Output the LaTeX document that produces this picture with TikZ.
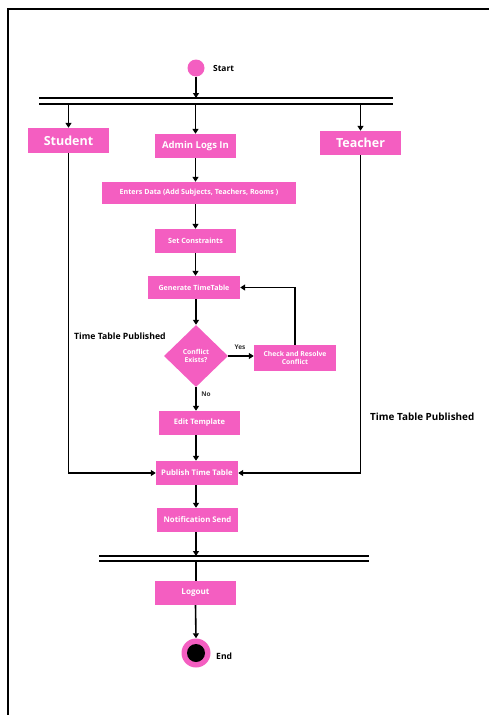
\documentclass[tikz,border=0pt]{standalone}
\usepackage{fontspec}
\setmainfont{Open Sans}
\usetikzlibrary{shapes.geometric,arrows.meta}
\definecolor{pk}{RGB}{244,94,193}
\newcommand{\fs}[1]{\fontsize{#1}{#1}\selectfont}
\begin{document}
\begin{tikzpicture}[x=1pt,y=-1pt,
  box/.style={fill=pk,text=white,font=\bfseries,inner sep=0pt,align=center},
  arr/.style={line width=1.6pt,-{Triangle[length=5pt,width=6pt]}},
  ln/.style={line width=1.6pt},
  lbl/.style={text=black,inner sep=0pt}]
\useasboundingbox (0,0) rectangle (489,715);
\fill[white] (0,0) rectangle (489,715);
\draw[line width=2pt] (8,715) -- (8,9) -- (489,9);

% start
\node[circle,fill=pk,minimum size=17pt,inner sep=0pt] (start) at (196,68) {};
\node[lbl,anchor=west,font=\bfseries\fs{8.4}] (startl) at (213,68) {Start};

% fork bar
\coordinate (f1L) at (39,98); \coordinate (f1R) at (393,98);
\coordinate (f2L) at (39,104); \coordinate (f2R) at (393,104);
\draw[ln] (f1L) -- (f1R);
\draw[ln] (f2L) -- (f2R);

% boxes
\node[box,minimum width=81pt,minimum height=25pt,font=\bfseries\fs{12.5}] (student) at (68.5,140.5) {Student};
\node[box,minimum width=81pt,minimum height=24pt,font=\bfseries\fs{9.5}] (admin) at (195.5,146) {Admin Logs In};
\node[box,minimum width=81pt,minimum height=24pt,font=\bfseries\fs{12.5}] (teacher) at (360.5,143) {Teacher};
\node[box,minimum width=194pt,minimum height=22pt,font=\bfseries\fs{7.1}] (enters) at (199,193) {Enters Data (Add Subjects, Teachers, Rooms )};
\node[box,minimum width=81pt,minimum height=24pt,font=\bfseries\fs{7.2}] (setc) at (195.5,241) {Set Constraints};
\node[box,minimum width=92pt,minimum height=23pt,font=\bfseries\fs{7.1}] (gen) at (194,287.5) {Generate TimeTable};
\node[box,diamond,aspect=1,minimum width=64pt,minimum height=62pt,font=\bfseries\fs{6.8},align=center] (dec) at (196,356) {Conflict\\[2pt]Exists?};
\node[box,minimum width=82pt,minimum height=26pt,font=\bfseries\fs{6.8}] (check) at (295,358) {Check and Resolve\\[2pt]Conflict};
\node[box,minimum width=81pt,minimum height=24pt,font=\bfseries\fs{7.5}] (edit) at (199.5,423) {Edit Template};
\node[box,minimum width=82pt,minimum height=24pt,font=\bfseries\fs{7.7}] (pub) at (197,473) {Publish Time Table};
\node[box,minimum width=81pt,minimum height=24pt,font=\bfseries\fs{7.8}] (notif) at (197.5,520) {Notification Send};
\node[box,minimum width=81pt,minimum height=24pt,font=\bfseries\fs{8.1}] (logout) at (195.5,593) {Logout};

% join bar
\coordinate (j1L) at (99,556); \coordinate (j1R) at (369,556);
\coordinate (j2L) at (99,561); \coordinate (j2R) at (369,561);
\draw[ln] (j1L) -- (j1R);
\draw[ln] (j2L) -- (j2R);

% end
\node[circle,fill=pk,minimum size=29pt,inner sep=0pt] (endc) at (196,653) {};
\node[circle,fill=black,minimum size=18pt,inner sep=0pt] (endi) at (196,653) {};
\node[lbl,anchor=west,font=\bfseries\fs{8.6}] (endl) at (216,656) {End};

% labels
\node[lbl,anchor=west,font=\bfseries\fs{8.7}] (tpl) at (74,336) {Time Table Published};
\node[lbl,anchor=west,font=\bfseries\fs{9.9}] (tpr) at (370,417) {Time Table Published};
\node[lbl,font=\bfseries\fs{6.5},text=black!80] (yes) at (240,347) {Yes};
\node[lbl,font=\bfseries\fs{6.5},text=black!80] (no) at (206,394) {No};

% connectors
\draw[arr] (start) -- (start |- f1L);
\draw[arr] (student.north |- f2L) -- (student.north);
\draw[arr] (admin.north |- f2L) -- (admin.north);
\draw[arr] (teacher.north |- f2L) -- (teacher.north);
\draw[arr] (admin.south) -- (admin.south |- enters.north);
\draw[arr] (admin.south |- enters.south) -- (admin.south |- setc.north);
\draw[arr] (setc.south) -- (setc.south |- gen.north);
\draw[arr] (dec.north |- gen.south) -- (dec.north);
\draw[arr] (dec.east) -- (check.west |- dec.east);
\draw[arr] (check.north) -- (check.north |- gen.east) -- (gen.east);
\draw[arr] (dec.south) -- (dec.south |- edit.north);
\draw[arr] (dec.south |- edit.south) -- (dec.south |- pub.north);
\draw[arr] (student.south) |- (pub.west);
\draw[arr] (teacher.south) |- (pub.east);
\draw[arr] (dec.south |- pub.south) -- (dec.south |- notif.north);
\draw[arr] (dec.south |- notif.south) -- (dec.south |- j1L);
\draw[ln] (dec.south |- j2L) -- (dec.south |- logout.north);
\draw[arr] (logout.south) -- (endc.north);
\end{tikzpicture}
\end{document}
